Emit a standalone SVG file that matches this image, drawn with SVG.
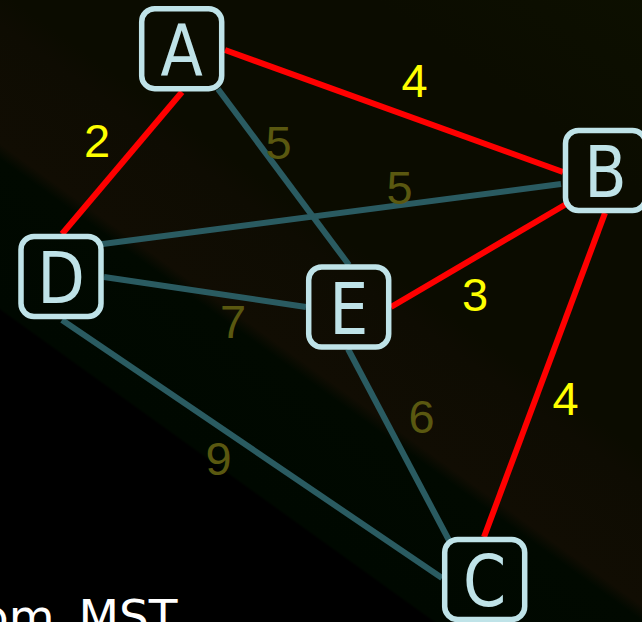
<svg xmlns="http://www.w3.org/2000/svg" width="642" height="622" viewBox="0 0 642 622">
  <defs>
    <!-- diagonal banded backdrop, dark olive top-right fading to black bottom-left -->
    <linearGradient id="bg" gradientUnits="userSpaceOnUse" x1="-175.2" y1="243.6" x2="233.6" y2="-324.8">
      <stop offset="0" stop-color="#000000"/>
      <stop offset="0.068" stop-color="#000000"/>
      <stop offset="0.072" stop-color="#000800"/>
      <stop offset="0.244" stop-color="#010900"/>
      <stop offset="0.262" stop-color="#110d03"/>
      <stop offset="0.40" stop-color="#0e0c02"/>
      <stop offset="0.44" stop-color="#0b0c00"/>
      <stop offset="0.74" stop-color="#0b0c00"/>
      <stop offset="1" stop-color="#0d1000"/>
    </linearGradient>
    <style>
      .mst { stroke: #ff0000; stroke-width: 6; stroke-linecap: butt; fill: none; }
      .edge { stroke: #2a5b61; stroke-width: 6; stroke-linecap: butt; fill: none; }
      .box { fill: url(#bg); stroke: #bfe3e8; stroke-width: 5.5; }
      .name { fill: #bfe3e8; font-family: "DejaVu Sans", sans-serif; font-size: 72px; text-anchor: middle; }
      .w { font-family: "Liberation Sans", Arial, sans-serif; font-size: 47px; text-anchor: middle; }
      .w-mst { fill: #ffff00; }
      .w-off { fill: #5a5810; }
      .caption { fill: #ffffff; font-family: "DejaVu Sans", sans-serif; font-size: 47px; }
    </style>
  </defs>

  <rect x="0" y="0" width="642" height="622" fill="url(#bg)"/>

  <g id="connectors">
    <line class="edge" x1="218" y1="89" x2="349" y2="265"/>
    <line class="edge" x1="95" y1="245" x2="561" y2="184"/>
    <line class="edge" x1="104" y1="277" x2="306" y2="307"/>
    <line class="edge" x1="62" y1="320" x2="442" y2="578"/>
    <line class="edge" x1="348" y1="349" x2="452" y2="546"/>
    <line class="mst" x1="225" y1="50" x2="563" y2="172"/>
    <line class="mst" x1="182" y1="92" x2="62" y2="234"/>
    <line class="mst" x1="568" y1="203" x2="391" y2="307"/>
    <line class="mst" x1="605" y1="213" x2="484" y2="537"/>
  </g>

  <g id="weights">
    <text class="w w-mst" x="414.5" y="97">4</text>
    <text class="w w-mst" x="97" y="157">2</text>
    <text class="w w-mst" x="475" y="311">3</text>
    <text class="w w-mst" x="565.5" y="415">4</text>
    <text class="w w-off" x="278.5" y="159">5</text>
    <text class="w w-off" x="399.5" y="204">5</text>
    <text class="w w-off" x="233" y="338">7</text>
    <text class="w w-off" x="421.5" y="433">6</text>
    <text class="w w-off" x="218.5" y="475">9</text>
  </g>

  <!-- node letters are set slightly narrow -->
  <g id="node-A">
    <rect class="box" x="141.7" y="8.7" width="80" height="80" rx="13"/>
    <text class="name" transform="translate(181.7,75) scale(0.86,1)">A</text>
  </g>
  <g id="node-B">
    <rect class="box" x="565.5" y="130.5" width="80" height="80" rx="13"/>
    <text class="name" transform="translate(605.5,197) scale(0.86,1)">B</text>
  </g>
  <g id="node-C">
    <rect class="box" x="444.7" y="539.5" width="80" height="80" rx="13"/>
    <text class="name" transform="translate(484.7,606) scale(0.86,1)">C</text>
  </g>
  <g id="node-D">
    <rect class="box" x="21" y="236.5" width="80" height="80" rx="13"/>
    <text class="name" transform="translate(61,303) scale(0.86,1)">D</text>
  </g>
  <g id="node-E">
    <rect class="box" x="308.7" y="267" width="80" height="80" rx="13"/>
    <text class="name" transform="translate(348.7,333.5) scale(0.86,1)">E</text>
  </g>

  <text class="caption" x="-20" y="633">om<tspan x="78.4">MST</tspan></text>
</svg>
